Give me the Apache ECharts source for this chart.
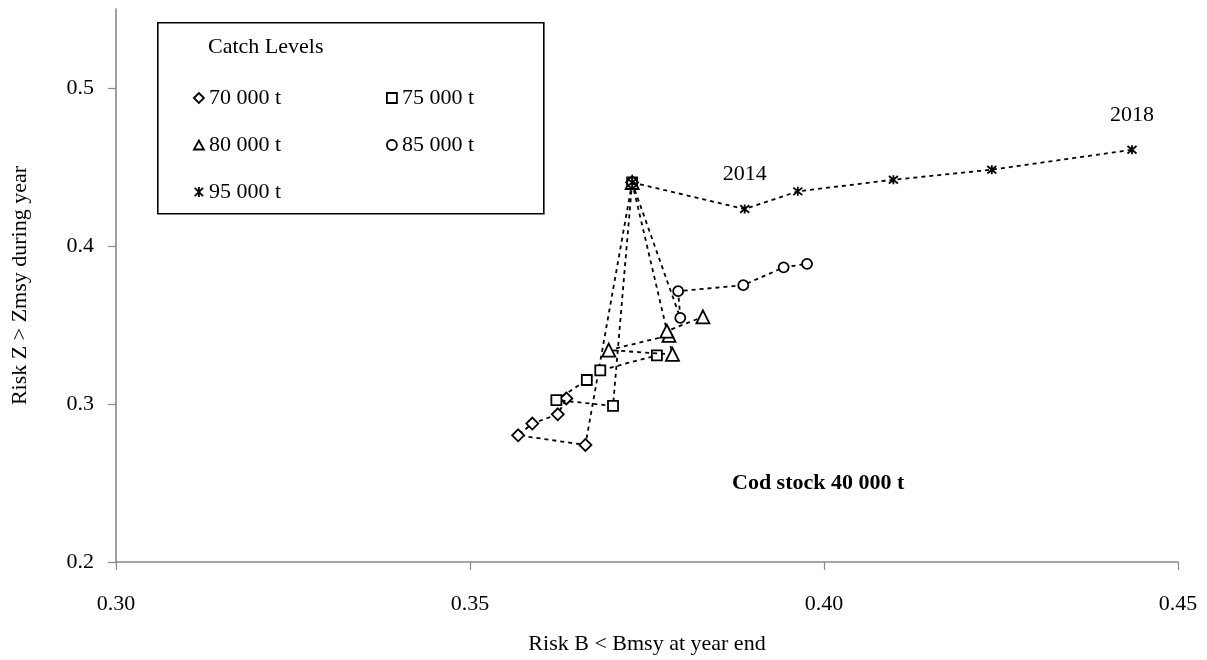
<!DOCTYPE html>
<html>
<head>
<meta charset="utf-8">
<script src="https://cdn.jsdelivr.net/npm/echarts@6/dist/echarts.min.js"></script>
<style>
html,body{margin:0;padding:0;background:#fff;}
#chart{width:1207px;height:660px;}
</style>
</head>
<body>
<div id="chart"></div>
<script>
// ---- Data ----
var years = ['2013', '2014', '2015', '2016', '2017', '2018'];
var labeledYears = ['2014', '2018'];
var seriesNames = ['70 000 t', '75 000 t', '80 000 t', '85 000 t', '95 000 t'];

// Risk B < Bmsy at year end (x)
var x70 = [0.3729, 0.3663, 0.3568, 0.3588, 0.3624, 0.3636];
var x75 = [0.3729, 0.3702, 0.3622, 0.3665, 0.3684, 0.3764];
var x80 = [0.3729, 0.3786, 0.3696, 0.3781, 0.3778, 0.3829];
var x85 = [0.3729, 0.3797, 0.3794, 0.3886, 0.3943, 0.3976];
var x95 = [0.3729, 0.3888, 0.3963, 0.4098, 0.4237, 0.4435];

// Risk Z > Zmsy during year (y)
var y70 = [0.4402, 0.2741, 0.2802, 0.2876, 0.2935, 0.3035];
var y75 = [0.4402, 0.2988, 0.3025, 0.3152, 0.3213, 0.3308];
var y80 = [0.4402, 0.3314, 0.3341, 0.3434, 0.3461, 0.3552];
var y85 = [0.4402, 0.3545, 0.3714, 0.3752, 0.3865, 0.3887];
var y95 = [0.4402, 0.4234, 0.4346, 0.4419, 0.4483, 0.4609];

var xTicks = [0.30, 0.35, 0.40, 0.45];
var yTicks = [0.2, 0.3, 0.4, 0.5];

// ---- Styling ----
var FONT = 'Liberation Serif';
var FS = 22;
var SYM_DIAMOND = 'path://M5,0 L10,5 L5,10 L0,5 Z';
var SYM_SQUARE = 'path://M0,0 L10,0 L10,10 L0,10 Z';
var SYM_TRIANGLE = 'path://M5,0 L10,9 L0,9 Z';
var SYM_CIRCLE = 'circle';
var SYM_STAR = 'path://M0,0 L10,10 M10,0 L0,10 M5,-1 L5,11';

var symbols = [SYM_DIAMOND, SYM_SQUARE, SYM_TRIANGLE, SYM_CIRCLE, SYM_STAR];
var symbolSizes = [12, 10, 13, 10, 9];
var xs = [x70, x75, x80, x85, x95];
var ys = [y70, y75, y80, y85, y95];

function buildData(xArr, yArr, withLabels) {
  return xArr.map(function (x, i) {
    var item = { value: [x, yArr[i]] };
    if (withLabels && labeledYears.indexOf(years[i]) >= 0) {
      item.label = {
        show: true, formatter: years[i], position: 'top', distance: 18,
        color: '#000', fontFamily: FONT, fontSize: FS
      };
    }
    return item;
  });
}

var series = seriesNames.map(function (name, k) {
  return {
    name: name,
    type: 'line',
    data: buildData(xs[k], ys[k], k === 4),
    symbol: symbols[k],
    symbolSize: symbolSizes[k],
    showAllSymbol: true,
    z: 2 + k,
    lineStyle: { color: '#000', width: 1.8, type: [4, 4] },
    itemStyle: { color: '#fff', borderColor: '#000', borderWidth: 1.8 },
    emphasis: { disabled: true },
    animation: false
  };
});

var chart = echarts.init(document.getElementById('chart'), null, { renderer: 'canvas' });

var legendCommon = {
  orient: 'vertical',
  itemWidth: 10,
  itemHeight: 10,
  itemGap: 25,
  selectedMode: false,
  textStyle: { fontFamily: FONT, fontSize: FS, color: '#000' },
  lineStyle: { opacity: 0, width: 0 },
  itemStyle: { color: '#fff', borderColor: '#000', borderWidth: 1.8 }
};

var option = {
  backgroundColor: '#fff',
  animation: false,
  grid: { left: 116, right: 29, top: 9, bottom: 97, containLabel: false },
  xAxis: {
    type: 'value',
    min: 0.30, max: 0.45, interval: 0.05,
    name: 'Risk B < Bmsy at year end',
    nameLocation: 'middle', nameGap: 71,
    nameTextStyle: { fontFamily: FONT, fontSize: FS, color: '#000' },
    axisLine: { show: true, onZero: false, lineStyle: { color: '#888', width: 1.6 } },
    axisTick: { show: true, length: 8, lineStyle: { color: '#888', width: 1.2 }, customValues: xTicks },
    axisLabel: { fontFamily: FONT, fontSize: FS, color: '#000', margin: 31,
      customValues: xTicks, formatter: function (v) { return v.toFixed(2); } },
    splitLine: { show: false }
  },
  yAxis: {
    type: 'value',
    min: 0.2, max: 0.55, interval: 0.1,
    name: 'Risk Z > Zmsy during year',
    nameLocation: 'middle', nameGap: 85,
    nameTextStyle: { fontFamily: FONT, fontSize: FS, color: '#000' },
    axisLine: { show: true, onZero: false, lineStyle: { color: '#888', width: 1.6 } },
    axisTick: { show: true, length: 8, lineStyle: { color: '#888', width: 1.2 }, customValues: yTicks },
    axisLabel: { fontFamily: FONT, fontSize: FS, color: '#000', margin: 22,
      customValues: yTicks, formatter: function (v) { return String(Math.round(v * 10) / 10); } },
    splitLine: { show: false }
  },
  legend: [
    Object.assign({}, legendCommon, {
      left: 188, top: 82,
      data: [
        { name: seriesNames[0], icon: SYM_DIAMOND },
        { name: seriesNames[2], icon: SYM_TRIANGLE },
        { name: seriesNames[4], icon: SYM_STAR }
      ]
    }),
    Object.assign({}, legendCommon, {
      left: 381, top: 82,
      data: [
        { name: seriesNames[1], icon: SYM_SQUARE },
        { name: seriesNames[3], icon: 'circle' }
      ]
    })
  ],
  graphic: [
    {
      type: 'rect', left: 157, top: 22, z: 0,
      shape: { width: 386, height: 191 },
      style: { fill: '#fff', stroke: '#000', lineWidth: 1.6 }
    },
    {
      type: 'text', left: 208, top: 36, z: 1,
      style: { text: 'Catch Levels', fontFamily: FONT, fontSize: FS, fill: '#000' }
    },
    {
      type: 'text', left: 732, top: 472, z: 1,
      style: { text: 'Cod stock 40 000 t', fontFamily: FONT, fontSize: FS, fontWeight: 'bold', fill: '#000' }
    }
  ],
  series: series
};

chart.setOption(option);
</script>
</body>
</html>
